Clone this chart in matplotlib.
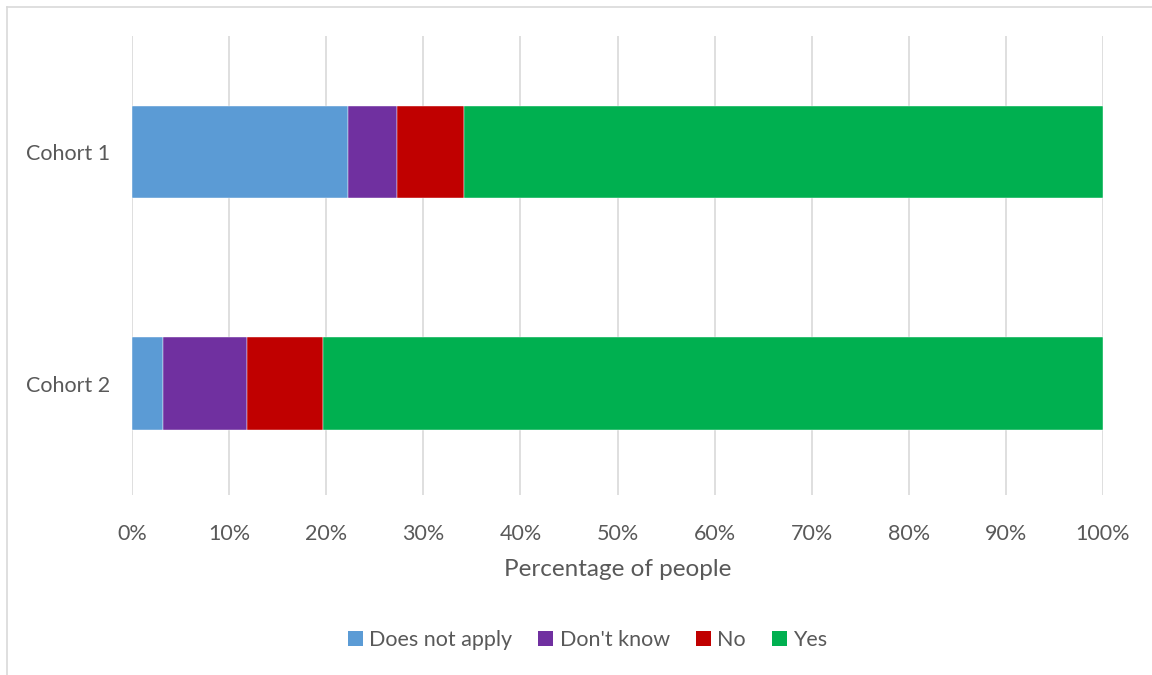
import matplotlib
matplotlib.use("Agg")
import matplotlib.pyplot as plt
from matplotlib.lines import Line2D
from matplotlib.patches import Patch

plt.rcParams['font.family'] = ['Lato', 'DejaVu Sans']

categories = ["Cohort 1", "Cohort 2"]
series_names = ["Does not apply", "Don't know", "No", "Yes"]
does_not_apply = [22.2, 3.2]
dont_know = [5.1, 8.6]
no = [6.9, 7.9]
yes = [65.8, 80.3]
colors = ["#5b9bd5", "#7030a0", "#c00000", "#00b050"]
xticks = [0, 10, 20, 30, 40, 50, 60, 70, 80, 90, 100]
xlabels = [f"{t}%" for t in xticks]

fig = plt.figure(figsize=(11.52, 6.75), dpi=100)
ax = fig.add_axes([132/1152, 1-495/675, (1103-132)/1152, (495-36)/675])

ypos = [1, 0]
left = [0, 0]
for name, vals, col in zip(series_names, [does_not_apply, dont_know, no, yes], colors):
    ax.barh(ypos, vals, left=left, height=0.4, color=col, label=name,
            edgecolor='white', linewidth=0.3, zorder=3)
    left = [l + v for l, v in zip(left, vals)]

ax.set_xlim(0, 100)
ax.set_ylim(-0.48, 1.5)
ax.set_yticks(ypos)
ax.set_yticklabels(categories, fontsize=15.5, color='#595959')
ax.set_xticks(xticks)
ax.set_xticklabels(xlabels, fontsize=15.5, color='#595959')
ax.tick_params(axis='both', length=0)
ax.tick_params(axis='x', pad=21)
ax.tick_params(axis='y', pad=16)
ax.grid(axis='x', color='#d9d9d9', linewidth=1.2, zorder=0)
for s in ax.spines.values():
    s.set_visible(False)
ax.set_xlabel("Percentage of people", fontsize=17.5, color='#595959', labelpad=11)

handles = [Patch(facecolor=c, edgecolor='none', label=n) for n, c in zip(series_names, colors)]
fig.legend(handles=handles, loc='center', bbox_to_anchor=(0.51, 1-640/675), ncol=4,
           frameon=False, fontsize=15.5, handlelength=0.7, handleheight=0.7,
           handletextpad=0.3, columnspacing=1.2, labelcolor='#595959')

# chart area border (left and top visible)
fig.add_artist(Line2D([7/1152, 7/1152], [0, 1-7/675], transform=fig.transFigure, color='#d9d9d9', linewidth=1.2))
fig.add_artist(Line2D([7/1152, 1], [1-7/675, 1-7/675], transform=fig.transFigure, color='#d9d9d9', linewidth=1.2))

fig.savefig("out.png", dpi=100)
